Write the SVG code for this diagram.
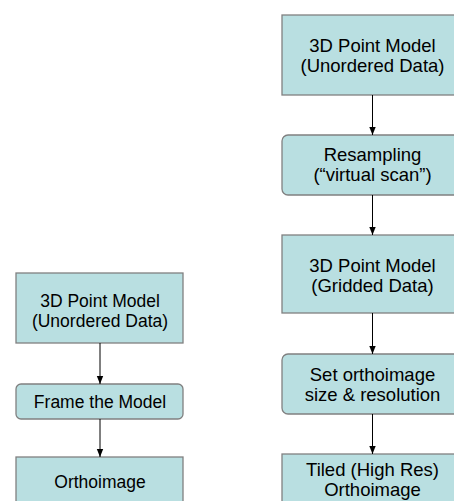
<svg xmlns="http://www.w3.org/2000/svg" width="454" height="501" viewBox="0 0 454 501">
  <defs>
    <marker id="arrow" viewBox="0 0 8 8" refX="8" refY="4" markerWidth="8" markerHeight="8" markerUnits="userSpaceOnUse" orient="auto">
      <path d="M0,0.8 L8,4 L0,7.2 Z" fill="#000"/>
    </marker>
  </defs>
  <style>
    .box { fill: #b9dfe1; stroke: #808080; stroke-width: 1.3; }
    .lbl { font-family: "Liberation Sans", Arial, sans-serif; fill: #000; text-anchor: middle; }
    .l { font-size: 17.5px; }
    .r { font-size: 18.5px; }
    .conn line { stroke: #000; stroke-width: 1; marker-end: url(#arrow); }
  </style>
  <rect width="454" height="501" fill="#fff"/>

  <!-- left column: direct orthoimage workflow -->
  <g id="l-model">
    <rect class="box" x="16" y="273" width="167" height="70"/>
    <text class="lbl l" x="100" y="307">3D Point Model</text>
    <text class="lbl l" x="100" y="326.5">(Unordered Data)</text>
  </g>
  <g id="l-frame">
    <rect class="box" x="16" y="384" width="167" height="35" rx="5"/>
    <text class="lbl l" x="100" y="408">Frame the Model</text>
  </g>
  <g id="l-ortho">
    <rect class="box" x="16" y="457" width="167" height="60"/>
    <text class="lbl l" x="100" y="488">Orthoimage</text>
  </g>

  <!-- right column: resampled, tiled orthoimage workflow -->
  <g id="r-model">
    <rect class="box" x="282" y="15" width="181" height="80"/>
    <text class="lbl r" x="372.5" y="52">3D Point Model</text>
    <text class="lbl r" x="372.5" y="72">(Unordered Data)</text>
  </g>
  <g id="r-resample">
    <rect class="box" x="282" y="135" width="181" height="60" rx="6"/>
    <text class="lbl r" x="372.5" y="161">Resampling</text>
    <text class="lbl r" x="372.5" y="181">(“virtual scan”)</text>
  </g>
  <g id="r-grid">
    <rect class="box" x="282" y="235" width="181" height="78"/>
    <text class="lbl r" x="372.5" y="272">3D Point Model</text>
    <text class="lbl r" x="372.5" y="292">(Gridded Data)</text>
  </g>
  <g id="r-size">
    <rect class="box" x="282" y="354" width="181" height="60" rx="6"/>
    <text class="lbl r" x="372.5" y="380.5">Set orthoimage</text>
    <text class="lbl r" x="372.5" y="400.5">size &amp; resolution</text>
  </g>
  <g id="r-tiled">
    <rect class="box" x="282" y="454" width="181" height="70"/>
    <text class="lbl r" x="372.5" y="475.5">Tiled (High Res)</text>
    <text class="lbl r" x="372.5" y="495.5">Orthoimage</text>
  </g>

  <g id="connectors" class="conn">
    <line x1="100" y1="343" x2="100" y2="384"/>
    <line x1="100" y1="419" x2="100" y2="457"/>
    <line x1="372.5" y1="95" x2="372.5" y2="135"/>
    <line x1="372.5" y1="195" x2="372.5" y2="235"/>
    <line x1="372.5" y1="313" x2="372.5" y2="354"/>
    <line x1="372.5" y1="414" x2="372.5" y2="454"/>
  </g>
</svg>
